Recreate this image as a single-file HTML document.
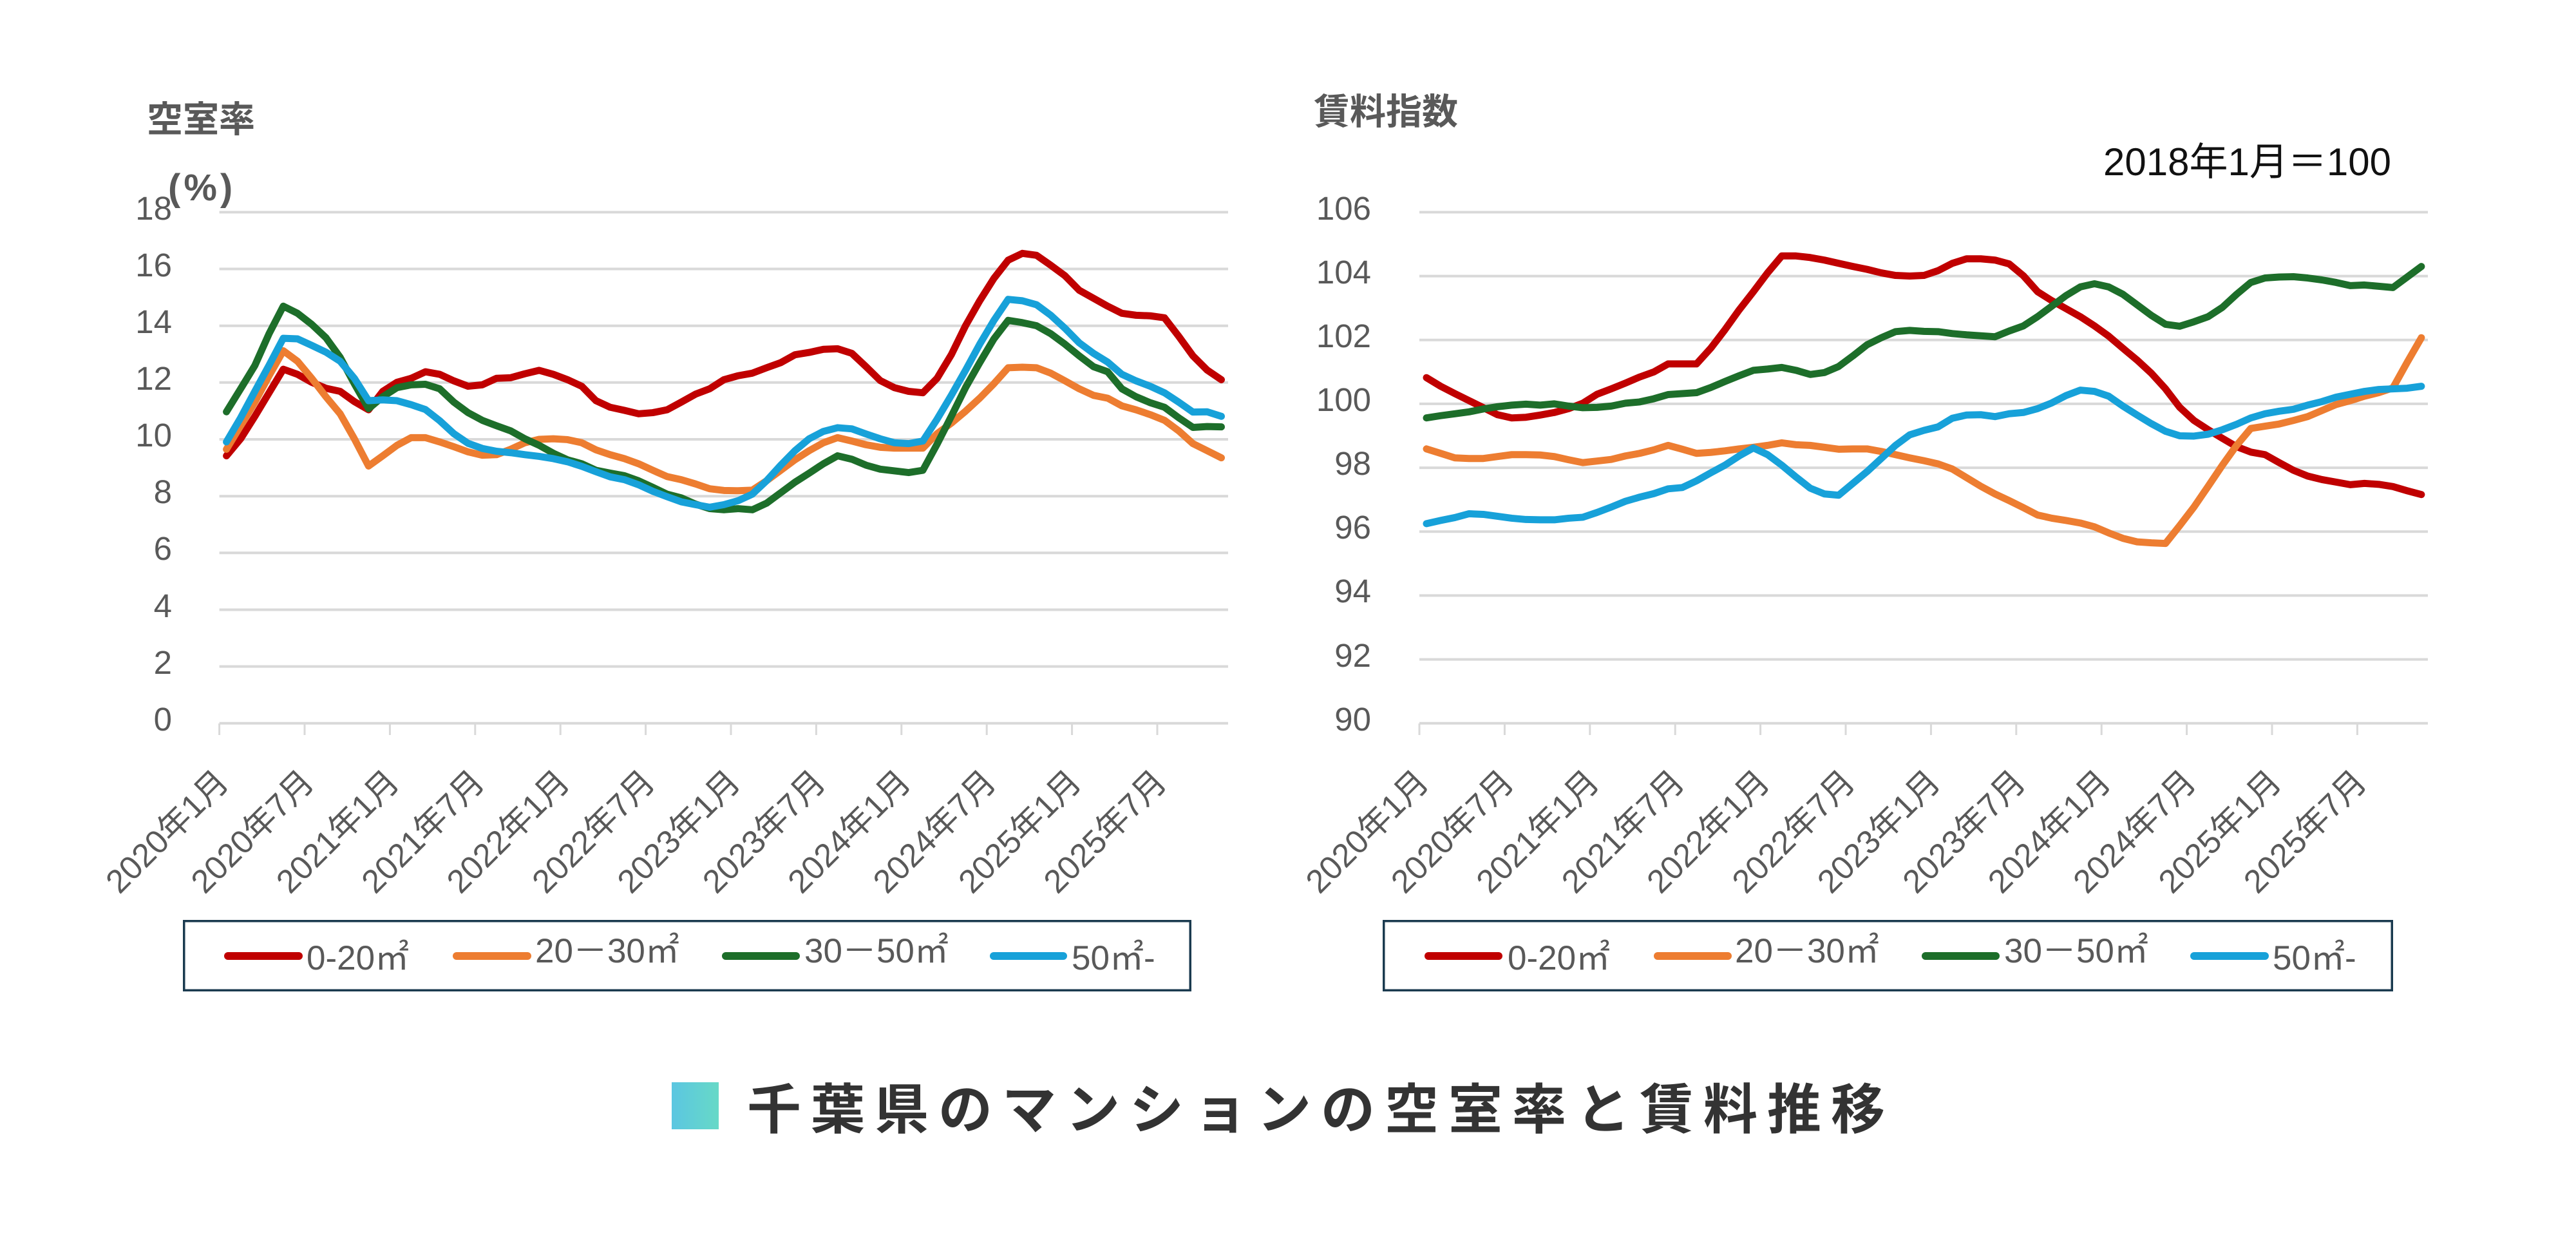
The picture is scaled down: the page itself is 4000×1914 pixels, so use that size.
<!DOCTYPE html>
<html>
<head>
<meta charset="utf-8">
<style>
html,body{margin:0;padding:0;background:#fff;}
svg{display:block;}
.t{font-family:"Liberation Sans","Noto Sans CJK JP",sans-serif;}
</style>
</head>
<body>
<svg width="4000" height="1914" viewBox="0 0 4000 1914" xmlns="http://www.w3.org/2000/svg">
<defs>
<linearGradient id="sq" x1="0" y1="0" x2="1" y2="0">
<stop offset="0" stop-color="#5bc6e1"/>
<stop offset="1" stop-color="#67d9c7"/>
</linearGradient>
</defs>
<rect width="4000" height="1914" fill="#fff"/>

<!-- ===== LEFT CHART ===== -->
<g stroke="#d9d9d9" stroke-width="4">
<line x1="340.6" y1="329.4" x2="1907" y2="329.4"/>
<line x1="340.6" y1="417.5" x2="1907" y2="417.5"/>
<line x1="340.6" y1="505.7" x2="1907" y2="505.7"/>
<line x1="340.6" y1="593.8" x2="1907" y2="593.8"/>
<line x1="340.6" y1="682.0" x2="1907" y2="682.0"/>
<line x1="340.6" y1="770.2" x2="1907" y2="770.2"/>
<line x1="340.6" y1="858.3" x2="1907" y2="858.3"/>
<line x1="340.6" y1="946.5" x2="1907" y2="946.5"/>
<line x1="340.6" y1="1034.6" x2="1907" y2="1034.6"/>
<line x1="340.6" y1="1122.8" x2="1907" y2="1122.8"/>
</g>
<g stroke="#d9d9d9" stroke-width="3">
<line x1="340.6" y1="1123" x2="340.6" y2="1141"/>
<line x1="473.0" y1="1123" x2="473.0" y2="1141"/>
<line x1="605.4" y1="1123" x2="605.4" y2="1141"/>
<line x1="737.8" y1="1123" x2="737.8" y2="1141"/>
<line x1="870.2" y1="1123" x2="870.2" y2="1141"/>
<line x1="1002.6" y1="1123" x2="1002.6" y2="1141"/>
<line x1="1135.0" y1="1123" x2="1135.0" y2="1141"/>
<line x1="1267.4" y1="1123" x2="1267.4" y2="1141"/>
<line x1="1399.8" y1="1123" x2="1399.8" y2="1141"/>
<line x1="1532.2" y1="1123" x2="1532.2" y2="1141"/>
<line x1="1664.6" y1="1123" x2="1664.6" y2="1141"/>
<line x1="1797.0" y1="1123" x2="1797.0" y2="1141"/>
</g>
<g class="t" font-size="51" fill="#595959" text-anchor="end">
<text x="267" y="341">18</text>
<text x="267" y="429">16</text>
<text x="267" y="517">14</text>
<text x="267" y="605">12</text>
<text x="267" y="693">10</text>
<text x="267" y="781">8</text>
<text x="267" y="869">6</text>
<text x="267" y="958">4</text>
<text x="267" y="1046">2</text>
<text x="267" y="1134">0</text>
</g>
<g class="t" font-size="51" fill="#595959" text-anchor="end">
<text transform="translate(358,1217) rotate(-45)">2020年1月</text>
<text transform="translate(490.4,1217) rotate(-45)">2020年7月</text>
<text transform="translate(622.8,1217) rotate(-45)">2021年1月</text>
<text transform="translate(755.2,1217) rotate(-45)">2021年7月</text>
<text transform="translate(887.6,1217) rotate(-45)">2022年1月</text>
<text transform="translate(1020,1217) rotate(-45)">2022年7月</text>
<text transform="translate(1152.4,1217) rotate(-45)">2023年1月</text>
<text transform="translate(1284.8,1217) rotate(-45)">2023年7月</text>
<text transform="translate(1417.2,1217) rotate(-45)">2024年1月</text>
<text transform="translate(1549.6,1217) rotate(-45)">2024年7月</text>
<text transform="translate(1682,1217) rotate(-45)">2025年1月</text>
<text transform="translate(1814.4,1217) rotate(-45)">2025年7月</text>
</g>
<text class="t" x="228" y="205" font-size="56" font-weight="700" fill="#595959">空室率</text>
<text class="t" x="261" y="311" font-size="58" font-weight="700" fill="#595959" letter-spacing="5">(%)</text>

<g transform="matrix(22.07,0,0,-44.08,351.6,1122.8)" fill="none" stroke-width="11" stroke-linejoin="round" stroke-linecap="round">
<polyline vector-effect="non-scaling-stroke" stroke="#c00000" points="0,9.42 1,10.02 2,10.81 3,11.64 4,12.47 5,12.29 6,12.01 7,11.80 8,11.69 9,11.33 10,11.04 11,11.69 12,12.01 13,12.15 14,12.38 15,12.29 16,12.06 17,11.87 18,11.92 19,12.15 20,12.17 21,12.31 22,12.43 23,12.29 24,12.10 25,11.87 26,11.36 27,11.13 28,11.02 29,10.90 30,10.94 31,11.04 32,11.31 33,11.59 34,11.78 35,12.10 36,12.24 37,12.33 38,12.52 39,12.70 40,12.98 41,13.06 42,13.17 43,13.19 44,13.03 45,12.56 46,12.07 47,11.82 48,11.69 49,11.64 50,12.15 51,12.98 52,14.00 53,14.88 54,15.67 55,16.31 56,16.55 57,16.48 58,16.13 59,15.76 60,15.25 61,14.97 62,14.69 63,14.44 64,14.37 65,14.35 66,14.28 67,13.63 68,12.94 69,12.44 70,12.10"/>
<polyline vector-effect="non-scaling-stroke" stroke="#ed7d31" points="0,9.65 1,10.48 2,11.31 3,12.24 4,13.12 5,12.75 6,12.15 7,11.50 8,10.90 9,10.02 10,9.06 11,9.42 12,9.79 13,10.06 14,10.06 15,9.91 16,9.74 17,9.56 18,9.44 19,9.46 20,9.65 21,9.88 22,10.00 23,10.02 24,9.99 25,9.88 26,9.63 27,9.46 28,9.32 29,9.14 30,8.91 31,8.69 32,8.58 33,8.43 34,8.26 35,8.20 36,8.19 37,8.21 38,8.54 39,8.91 40,9.28 41,9.60 42,9.88 43,10.06 44,9.94 45,9.81 46,9.72 47,9.69 48,9.69 49,9.69 50,10.20 51,10.57 52,10.99 53,11.45 54,11.96 55,12.52 56,12.54 57,12.52 58,12.33 59,12.06 60,11.78 61,11.55 62,11.45 63,11.18 64,11.04 65,10.87 66,10.67 67,10.30 68,9.85 69,9.60 70,9.35"/>
<polyline vector-effect="non-scaling-stroke" stroke="#1d6e2a" points="0,10.97 1,11.78 2,12.60 3,13.72 4,14.69 5,14.44 6,14.05 7,13.58 8,12.89 9,11.96 10,11.08 11,11.50 12,11.82 13,11.92 14,11.94 15,11.78 16,11.31 17,10.94 18,10.67 19,10.48 20,10.30 21,10.02 22,9.79 23,9.51 24,9.28 25,9.14 26,8.91 27,8.81 28,8.72 29,8.54 30,8.31 31,8.07 32,7.94 33,7.72 34,7.56 35,7.52 36,7.56 37,7.52 38,7.75 39,8.12 40,8.49 41,8.81 42,9.14 43,9.42 44,9.30 45,9.09 46,8.95 47,8.89 48,8.83 49,8.91 50,9.83 51,10.81 52,11.82 53,12.70 54,13.54 55,14.19 56,14.11 57,14.00 58,13.72 59,13.35 60,12.94 61,12.56 62,12.38 63,11.78 64,11.50 65,11.29 66,11.13 67,10.76 68,10.42 69,10.45 70,10.44"/>
<polyline vector-effect="non-scaling-stroke" stroke="#17a1d9" points="0,9.91 1,10.76 2,11.69 3,12.61 4,13.56 5,13.54 6,13.31 7,13.07 8,12.75 9,12.15 10,11.36 11,11.39 12,11.36 13,11.22 14,11.05 15,10.66 16,10.20 17,9.86 18,9.68 19,9.58 20,9.53 21,9.46 22,9.40 23,9.32 24,9.21 25,9.05 26,8.86 27,8.68 28,8.58 29,8.40 30,8.17 31,7.98 32,7.80 33,7.70 34,7.61 35,7.70 36,7.84 37,8.07 38,8.54 39,9.09 40,9.60 41,10.02 42,10.28 43,10.41 44,10.37 45,10.19 46,10.02 47,9.88 48,9.85 49,9.94 50,10.71 51,11.55 52,12.43 53,13.35 54,14.19 55,14.93 56,14.88 57,14.74 58,14.37 59,13.91 60,13.40 61,13.03 62,12.72 63,12.29 64,12.06 65,11.87 66,11.64 67,11.31 68,10.96 69,10.97 70,10.81"/>
</g>

<!-- left legend -->
<rect x="285.75" y="1429.75" width="1562.5" height="107.5" fill="#fff" stroke="#1a3a4f" stroke-width="3.5"/>
<g stroke-width="12" stroke-linecap="round">
<line x1="354" y1="1484" x2="464" y2="1484" stroke="#c00000"/>
<line x1="709" y1="1484" x2="819" y2="1484" stroke="#ed7d31"/>
<line x1="1127" y1="1484" x2="1236" y2="1484" stroke="#1d6e2a"/>
<line x1="1543" y1="1484" x2="1651" y2="1484" stroke="#17a1d9"/>
</g>
<g class="t" font-size="53" fill="#595959">
<text x="476" y="1505">0-20㎡</text>
<text x="831" y="1494">20－30㎡</text>
<text x="1249" y="1494">30－50㎡</text>
<text x="1664" y="1505">50㎡-</text>
</g>

<!-- ===== RIGHT CHART ===== -->
<g stroke="#d9d9d9" stroke-width="4">
<line x1="2204" y1="329.4" x2="3770" y2="329.4"/>
<line x1="2204" y1="428.6" x2="3770" y2="428.6"/>
<line x1="2204" y1="527.7" x2="3770" y2="527.7"/>
<line x1="2204" y1="626.9" x2="3770" y2="626.9"/>
<line x1="2204" y1="726.1" x2="3770" y2="726.1"/>
<line x1="2204" y1="825.3" x2="3770" y2="825.3"/>
<line x1="2204" y1="924.4" x2="3770" y2="924.4"/>
<line x1="2204" y1="1023.6" x2="3770" y2="1023.6"/>
<line x1="2204" y1="1122.8" x2="3770" y2="1122.8"/>
</g>
<g stroke="#d9d9d9" stroke-width="3">
<line x1="2204" y1="1123" x2="2204" y2="1141"/>
<line x1="2336.4" y1="1123" x2="2336.4" y2="1141"/>
<line x1="2468.8" y1="1123" x2="2468.8" y2="1141"/>
<line x1="2601.2" y1="1123" x2="2601.2" y2="1141"/>
<line x1="2733.6" y1="1123" x2="2733.6" y2="1141"/>
<line x1="2866" y1="1123" x2="2866" y2="1141"/>
<line x1="2998.4" y1="1123" x2="2998.4" y2="1141"/>
<line x1="3130.8" y1="1123" x2="3130.8" y2="1141"/>
<line x1="3263.2" y1="1123" x2="3263.2" y2="1141"/>
<line x1="3395.6" y1="1123" x2="3395.6" y2="1141"/>
<line x1="3528" y1="1123" x2="3528" y2="1141"/>
<line x1="3660.4" y1="1123" x2="3660.4" y2="1141"/>
</g>
<g class="t" font-size="51" fill="#595959" text-anchor="end">
<text x="2129" y="341">106</text>
<text x="2129" y="440">104</text>
<text x="2129" y="539">102</text>
<text x="2129" y="638">100</text>
<text x="2129" y="737">98</text>
<text x="2129" y="836">96</text>
<text x="2129" y="935">94</text>
<text x="2129" y="1035">92</text>
<text x="2129" y="1134">90</text>
</g>
<g class="t" font-size="51" fill="#595959" text-anchor="end">
<text transform="translate(2221.4,1217) rotate(-45)">2020年1月</text>
<text transform="translate(2353.8,1217) rotate(-45)">2020年7月</text>
<text transform="translate(2486.2,1217) rotate(-45)">2021年1月</text>
<text transform="translate(2618.6,1217) rotate(-45)">2021年7月</text>
<text transform="translate(2751,1217) rotate(-45)">2022年1月</text>
<text transform="translate(2883.4,1217) rotate(-45)">2022年7月</text>
<text transform="translate(3015.8,1217) rotate(-45)">2023年1月</text>
<text transform="translate(3148.2,1217) rotate(-45)">2023年7月</text>
<text transform="translate(3280.6,1217) rotate(-45)">2024年1月</text>
<text transform="translate(3413,1217) rotate(-45)">2024年7月</text>
<text transform="translate(3545.4,1217) rotate(-45)">2025年1月</text>
<text transform="translate(3677.8,1217) rotate(-45)">2025年7月</text>
</g>
<text class="t" x="2040" y="193" font-size="56" font-weight="700" fill="#595959">賃料指数</text>
<text class="t" x="3266" y="272" font-size="60" fill="#111">2018年1月＝100</text>

<g transform="matrix(22.07,0,0,-49.59,2215,5585.9)" fill="none" stroke-width="11" stroke-linejoin="round" stroke-linecap="round">
<polyline vector-effect="non-scaling-stroke" stroke="#c00000" points="0,100.82 1,100.55 2,100.32 3,100.10 4,99.88 5,99.66 6,99.56 7,99.58 8,99.65 9,99.73 10,99.85 11,100.02 12,100.30 13,100.47 14,100.65 15,100.84 16,101.00 17,101.25 18,101.25 19,101.25 20,101.74 21,102.32 22,102.94 23,103.51 24,104.10 25,104.63 26,104.63 27,104.58 28,104.50 29,104.40 30,104.30 31,104.21 32,104.10 33,104.02 34,104.00 35,104.02 36,104.17 37,104.40 38,104.54 39,104.54 40,104.50 41,104.38 42,104.01 43,103.51 44,103.23 45,102.98 46,102.73 47,102.44 48,102.12 49,101.74 50,101.37 51,100.96 52,100.47 53,99.89 54,99.48 55,99.19 56,98.92 57,98.66 58,98.49 59,98.41 60,98.16 61,97.92 62,97.74 63,97.63 64,97.55 65,97.47 66,97.51 67,97.48 68,97.41 69,97.28 70,97.16"/>
<polyline vector-effect="non-scaling-stroke" stroke="#ed7d31" points="0,98.59 1,98.45 2,98.31 3,98.29 4,98.29 5,98.35 6,98.41 7,98.41 8,98.40 9,98.35 10,98.25 11,98.16 12,98.21 13,98.26 14,98.37 15,98.45 16,98.56 17,98.70 18,98.58 19,98.45 20,98.48 21,98.53 22,98.59 23,98.64 24,98.70 25,98.78 26,98.72 27,98.70 28,98.64 29,98.58 30,98.59 31,98.59 32,98.51 33,98.41 34,98.31 35,98.22 36,98.12 37,97.96 38,97.69 39,97.42 40,97.18 41,96.97 42,96.75 43,96.52 44,96.42 45,96.35 46,96.27 47,96.15 48,95.96 49,95.79 50,95.68 51,95.65 52,95.63 53,96.19 54,96.77 55,97.42 56,98.08 57,98.70 58,99.23 59,99.30 60,99.37 61,99.48 62,99.60 63,99.79 64,99.98 65,100.10 66,100.24 67,100.35 68,100.50 69,101.30 70,102.07"/>
<polyline vector-effect="non-scaling-stroke" stroke="#1d6e2a" points="0,99.56 1,99.63 2,99.69 3,99.75 4,99.84 5,99.91 6,99.96 7,99.99 8,99.96 9,100.00 10,99.93 11,99.88 12,99.89 13,99.93 14,100.02 15,100.06 16,100.16 17,100.29 18,100.32 19,100.35 20,100.51 21,100.70 22,100.88 23,101.05 24,101.09 25,101.14 26,101.05 27,100.92 28,100.98 29,101.17 30,101.50 31,101.85 32,102.07 33,102.26 34,102.30 35,102.27 36,102.26 37,102.20 38,102.16 39,102.13 40,102.10 41,102.28 42,102.44 43,102.73 44,103.06 45,103.39 46,103.66 47,103.76 48,103.66 49,103.43 50,103.10 51,102.77 52,102.49 53,102.43 54,102.57 55,102.73 56,103.02 57,103.43 58,103.80 59,103.94 60,103.97 61,103.98 62,103.94 63,103.88 64,103.80 65,103.70 66,103.72 67,103.68 68,103.64 69,103.97 70,104.30"/>
<polyline vector-effect="non-scaling-stroke" stroke="#17a1d9" points="0,96.25 1,96.35 2,96.44 3,96.56 4,96.54 5,96.48 6,96.42 7,96.38 8,96.37 9,96.37 10,96.42 11,96.45 12,96.60 13,96.77 14,96.95 15,97.08 16,97.19 17,97.34 18,97.38 19,97.59 20,97.84 21,98.08 22,98.37 23,98.62 24,98.41 25,98.08 26,97.71 27,97.36 28,97.18 29,97.14 30,97.51 31,97.88 32,98.29 33,98.70 34,99.03 35,99.17 36,99.28 37,99.55 38,99.65 39,99.66 40,99.60 41,99.69 42,99.73 43,99.85 44,100.03 45,100.26 46,100.43 47,100.39 48,100.24 49,99.93 50,99.65 51,99.38 52,99.14 53,99.00 54,98.99 55,99.05 56,99.19 57,99.36 58,99.56 59,99.69 60,99.77 61,99.83 62,99.96 63,100.07 64,100.21 65,100.30 66,100.39 67,100.45 68,100.47 69,100.49 70,100.55"/>
</g>

<!-- right legend -->
<rect x="2148.75" y="1429.75" width="1565.5" height="107.5" fill="#fff" stroke="#1a3a4f" stroke-width="3.5"/>
<g stroke-width="12" stroke-linecap="round">
<line x1="2218" y1="1484" x2="2327" y2="1484" stroke="#c00000"/>
<line x1="2574" y1="1484" x2="2683" y2="1484" stroke="#ed7d31"/>
<line x1="2990" y1="1484" x2="3099" y2="1484" stroke="#1d6e2a"/>
<line x1="3407" y1="1484" x2="3517" y2="1484" stroke="#17a1d9"/>
</g>
<g class="t" font-size="53" fill="#595959">
<text x="2341" y="1505">0-20㎡</text>
<text x="2694" y="1494">20－30㎡</text>
<text x="3112" y="1494">30－50㎡</text>
<text x="3529" y="1505">50㎡-</text>
</g>

<!-- ===== MAIN TITLE ===== -->
<rect x="1043" y="1680" width="73" height="73" fill="url(#sq)"/>
<text class="t" x="1160" y="1752" font-size="84" font-weight="700" fill="#333333" letter-spacing="15">千葉県のマンションの空室率と賃料推移</text>
</svg>
</body>
</html>
